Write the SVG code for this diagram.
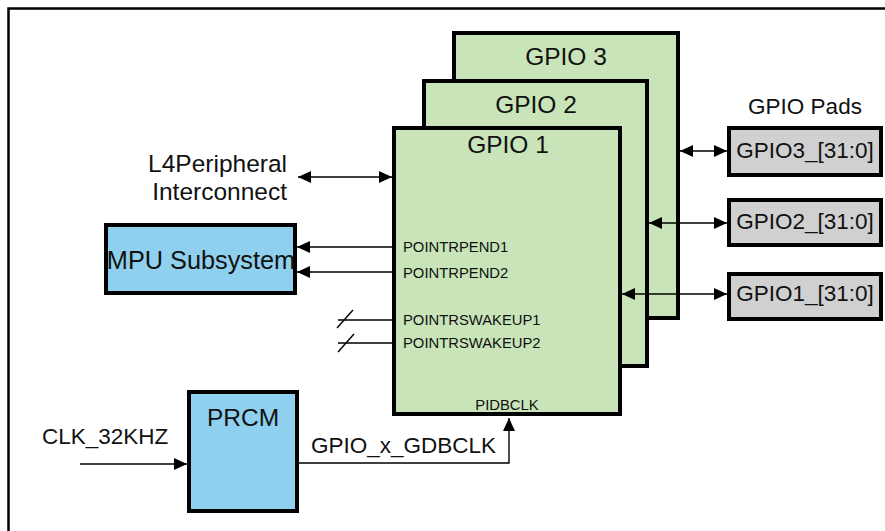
<svg xmlns="http://www.w3.org/2000/svg" width="885" height="531" viewBox="0 0 885 531">
<defs>
<style>
text{font-family:"Liberation Sans",Arial,sans-serif;fill:#111}
.big{font-size:24.5px}
.mid{font-size:22.5px}
.sm{font-size:14.8px}
.gpio{fill:#c8e4b8;stroke:#000;stroke-width:4}
.blue{fill:#8fd0ee;stroke:#000;stroke-width:4}
.pad{fill:#d0d0d0;stroke:#000;stroke-width:4}
.ln{fill:none;stroke:#000;stroke-width:1.4}
</style>
<marker id="ah" markerUnits="userSpaceOnUse" markerWidth="14" markerHeight="14" viewBox="0 0 14 14" refX="13" refY="7" orient="auto-start-reverse">
<path d="M0,1 L13,7 L0,13 Z" fill="#000"/>
</marker>
</defs>
<path d="M8.5,531 V8.5 H885" fill="none" stroke="#000" stroke-width="2.5"/>

<g id="gpio3"><rect class="gpio" x="454" y="33" width="224" height="285"/><text class="big" x="566" y="65" text-anchor="middle">GPIO 3</text></g>
<g id="gpio2"><rect class="gpio" x="424" y="81" width="223" height="285"/><text class="big" x="536" y="113" text-anchor="middle">GPIO 2</text></g>
<g id="gpio1"><rect class="gpio" x="394" y="128" width="226" height="286"/><text class="big" x="508" y="153" text-anchor="middle">GPIO 1</text>
<text class="sm" x="403" y="252">POINTRPEND1</text>
<text class="sm" x="403" y="278">POINTRPEND2</text>
<text class="sm" x="403" y="325">POINTRSWAKEUP1</text>
<text class="sm" x="403" y="348">POINTRSWAKEUP2</text>
<text class="sm" x="507" y="410" text-anchor="middle">PIDBCLK</text></g>

<g id="pads-label"><text class="mid" x="805" y="114" text-anchor="middle">GPIO Pads</text></g>
<g id="pad3"><rect class="pad" x="729" y="128" width="152" height="47"/><text class="mid" x="805" y="158" text-anchor="middle">GPIO3_[31:0]</text></g>
<g id="pad2"><rect class="pad" x="729" y="200" width="152" height="45"/><text class="mid" x="805" y="229" text-anchor="middle">GPIO2_[31:0]</text></g>
<g id="pad1"><rect class="pad" x="729" y="274" width="152" height="45"/><text class="mid" x="805" y="301" text-anchor="middle">GPIO1_[31:0]</text></g>

<g id="l4"><text class="big" x="287" y="172" text-anchor="end">L4Peripheral</text><text class="big" x="287" y="200" text-anchor="end">Interconnect</text></g>
<g id="mpu"><rect class="blue" x="106" y="225" width="189" height="68"/><text x="201" y="269" text-anchor="middle" style="font-size:25.3px">MPU Subsystem</text></g>
<g id="prcm"><rect class="blue" x="189" y="392" width="108" height="119"/><text class="big" x="243" y="426" text-anchor="middle">PRCM</text></g>
<g id="clk"><text class="mid" x="42" y="444">CLK_32KHZ</text></g>
<g id="gdbclk"><text class="mid" x="311" y="453">GPIO_x_GDBCLK</text></g>

<g id="connectors">
<line class="ln" x1="298" y1="177" x2="392" y2="177" marker-start="url(#ah)" marker-end="url(#ah)"/>
<line class="ln" x1="392" y1="247" x2="297" y2="247" marker-end="url(#ah)"/>
<line class="ln" x1="392" y1="272" x2="297" y2="272" marker-end="url(#ah)"/>
<line class="ln" x1="338" y1="320" x2="392" y2="320"/>
<line class="ln" x1="337" y1="328" x2="353" y2="310"/>
<line class="ln" x1="338" y1="343" x2="392" y2="343"/>
<line class="ln" x1="338" y1="352" x2="354" y2="334"/>
<line class="ln" x1="680" y1="151" x2="727" y2="151" marker-start="url(#ah)" marker-end="url(#ah)"/>
<line class="ln" x1="649" y1="223" x2="727" y2="223" marker-start="url(#ah)" marker-end="url(#ah)"/>
<line class="ln" x1="622" y1="294" x2="727" y2="294" marker-start="url(#ah)" marker-end="url(#ah)"/>
<path class="ln" d="M299,463 H509 V418" marker-end="url(#ah)"/>
<line class="ln" x1="80" y1="464" x2="187" y2="464" marker-end="url(#ah)"/>
</g>
</svg>
